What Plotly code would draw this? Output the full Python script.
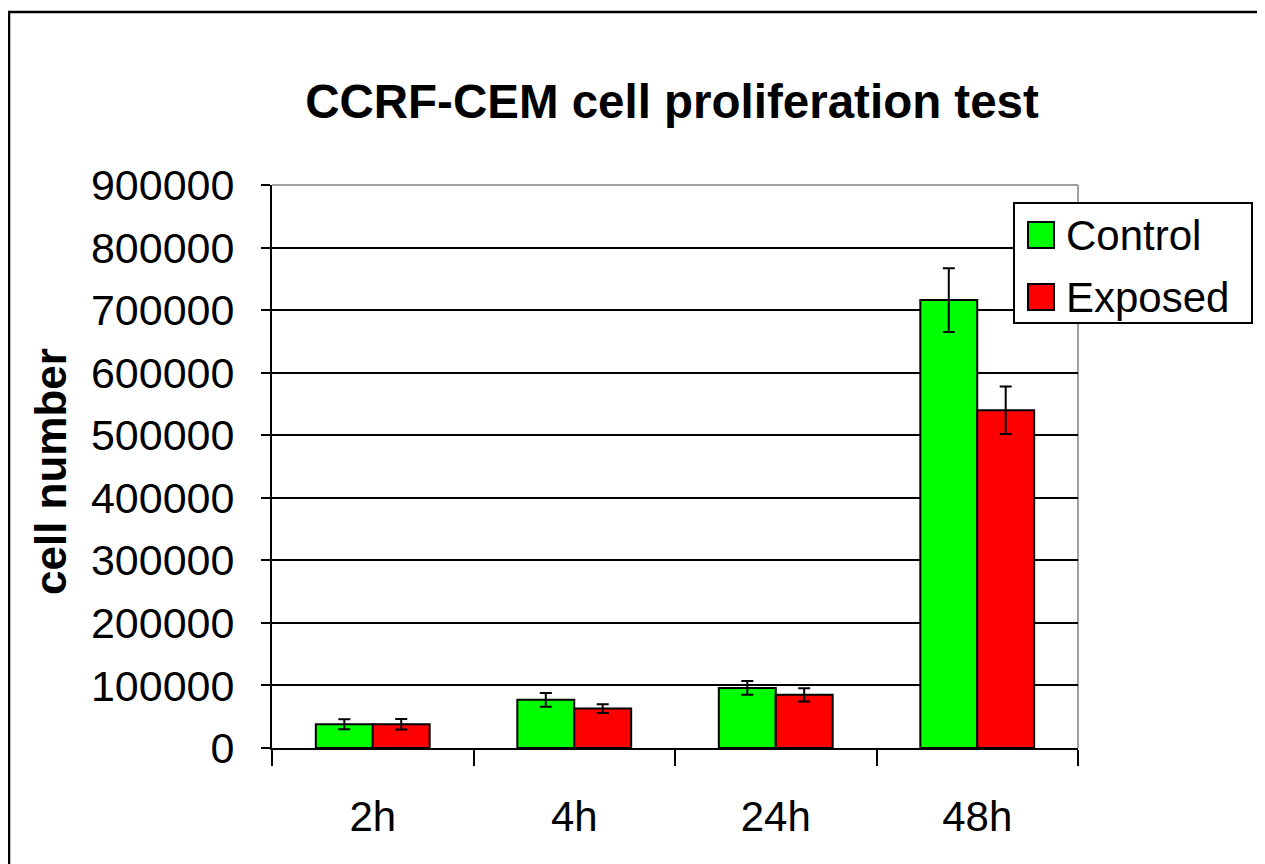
import plotly.graph_objects as go

# ---- data ----
categories = ["2h", "4h", "24h", "48h"]
series_names = ["Control", "Exposed"]
control_values = [38000, 77000, 96000, 716000]
control_errors = [8000, 11000, 11000, 51000]
exposed_values = [38000, 63000, 85000, 540000]
exposed_errors = [8500, 7000, 10500, 38000]
series_colors = ["#00FF00", "#FF0000"]
y_ticks = [0, 100000, 200000, 300000, 400000, 500000, 600000, 700000, 800000, 900000]

OFF = 8  # page body margin
W, H = 1265 - OFF, 864 - OFF
L, R, T, B = 272, 1078, 185, 748  # plot area in page pixels
FONT = "Liberation Sans, Arial, sans-serif"


def px_x(p):
    return (p - L) / (R - L)


def px_y(p):
    return (B - p) / (B - T)


fig = go.Figure()
for name, vals, errs, col in zip(series_names,
                                 [control_values, exposed_values],
                                 [control_errors, exposed_errors],
                                 series_colors):
    fig.add_trace(go.Bar(
        x=categories, y=vals, name=name, showlegend=False,
        marker=dict(color=col, line=dict(color="black", width=2)),
        error_y=dict(type="data", array=errs, visible=True,
                     color="black", thickness=2, width=6),
    ))

shapes = []
# outer chart border
shapes.append(dict(type="rect", xref="paper", yref="paper",
                   x0=px_x(9), x1=px_x(1300), y0=px_y(12), y1=px_y(900),
                   line=dict(color="black", width=2.5), layer="below"))
# grey plot border top/right
shapes.append(dict(type="line", xref="paper", yref="paper", x0=0, x1=1, y0=1, y1=1,
                   line=dict(color="#A0A0A0", width=2), layer="above"))
shapes.append(dict(type="line", xref="paper", yref="paper", x0=1, x1=1, y0=0, y1=1,
                   line=dict(color="#A0A0A0", width=2), layer="below"))

# custom legend
lx0, lx1, ly0, ly1 = 1014, 1252, 203, 323
shapes.append(dict(type="rect", xref="paper", yref="paper",
                   x0=px_x(lx0), x1=px_x(lx1), y0=px_y(ly0), y1=px_y(ly1),
                   fillcolor="white", line=dict(color="black", width=2), layer="above"))
annotations = []
item_centers = [235, 297]
for name, col, cy in zip(series_names, series_colors, item_centers):
    shapes.append(dict(type="rect", xref="paper", yref="paper",
                       x0=px_x(1028), x1=px_x(1054), y0=px_y(cy - 13), y1=px_y(cy + 13),
                       fillcolor=col, line=dict(color="black", width=2), layer="above"))
    annotations.append(dict(text=name, xref="paper", yref="paper",
                            x=px_x(1064), y=px_y(cy), xanchor="left", yanchor="middle",
                            showarrow=False, font=dict(family=FONT, size=42, color="black")))

# y-axis title
annotations.append(dict(text="<b>cell number</b>", xref="paper", yref="paper",
                        x=px_x(50), y=px_y(472), xanchor="center", yanchor="middle",
                        textangle=-90, showarrow=False,
                        font=dict(family=FONT, size=44, color="black")))

fig.update_layout(
    width=W, height=H,
    margin=dict(l=L - OFF, r=W - (R - OFF), t=T - OFF, b=H - (B - OFF)),
    paper_bgcolor="white", plot_bgcolor="white",
    barmode="group", bargap=0.435, bargroupgap=0,
    title=dict(text="<b>CCRF-CEM cell proliferation test</b>",
               x=(672 - OFF) / W, xanchor="center", y=1 - (101 - OFF) / H, yanchor="middle",
               font=dict(family=FONT, size=47.5, color="black")),
    font=dict(family=FONT, color="black"),
    shapes=shapes, annotations=annotations,
    xaxis=dict(type="category", tickson="boundaries", ticks="outside",
               ticklen=16, tickwidth=2, tickcolor="black",
               showline=True, linecolor="black", linewidth=2,
               showgrid=False, tickfont=dict(family=FONT, size=42, color="black"),
               ticklabelstandoff=31),
    yaxis=dict(range=[0, 900000], tickvals=y_ticks,
               ticktext=[str(v) for v in y_ticks],
               ticks="outside", ticklen=9, tickwidth=2, tickcolor="black",
               showline=True, linecolor="black", linewidth=2,
               showgrid=True, gridcolor="black", gridwidth=2,
               zeroline=False,
               tickfont=dict(family=FONT, size=43, color="black"),
               ticklabelstandoff=18),
)

fig.write_html("out.html")
